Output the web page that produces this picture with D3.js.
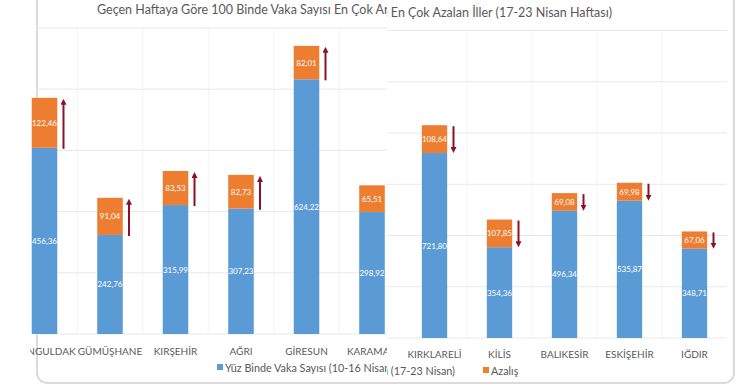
<!DOCTYPE html>
<html><head><meta charset="utf-8">
<script src="https://cdn.jsdelivr.net/npm/d3@7"></script>
<style>body{margin:0;background:#fff}svg{display:block;font-family:Lato,'Open Sans',sans-serif}</style>
</head><body><svg id="c" width="755" height="390"></svg>
<script>
const leftCategories=["ZONGULDAK","GÜMÜŞHANE","KIRŞEHİR","AĞRI","GİRESUN","KARAMAN"];
const leftBase=[456.36,242.76,315.99,307.23,624.22,298.92];
const leftChange=[122.46,91.04,83.53,82.73,82.01,65.51];
const rightCategories=["KIRKLARELİ","KİLİS","BALIKESİR","ESKİŞEHİR","IĞDIR"];
const rightBase=[721.80,354.36,496.34,535.87,348.71];
const rightChange=[108.64,107.85,69.08,69.98,67.06];
const leftTicks=[0,150,300,450,600,750];
const rightTicks=[0,200,400,600,800,1000,1200];
const leftTitle="Geçen Haftaya Göre 100 Binde Vaka Sayısı En Çok Artan İller (10-16 Nisan Haftası)";
const rightTitle="Geçen Haftaya Göre 100 Binde Vaka Sayısı En Çok Azalan İller (17-23 Nisan Haftası)";
const leftLegend=["Yüz Binde Vaka Sayısı (10-16 Nisan)"];
const rightLegend=["Yüz Binde Vaka Sayısı (17-23 Nisan)","Azalış"];

const BLUE="#5b9bd5", ORANGE="#ed7d31", ARROW="#8c1126", TXT="#595959";
const fmt=v=>d3.format(".2f")(v).replace(".",",");
const svg=d3.select("#c");
const defs=svg.append("defs");
defs.append("marker").attr("id","ah").attr("viewBox","0 0 10 10").attr("refX",5).attr("refY",5)
  .attr("markerWidth",3).attr("markerHeight",3).attr("orient","auto-start-reverse")
  .append("path").attr("d","M0,0 L10,5 L0,10 z").attr("fill",ARROW);

function panel(o){
  defs.append("clipPath").attr("id",o.id).append("rect")
    .attr("x",o.clip[0]).attr("y",-5).attr("width",o.clip[1]-o.clip[0]).attr("height",400);
  const g=svg.append("g").attr("clip-path",`url(#${o.id})`);
  g.append("rect").attr("x",o.box[0]).attr("y",-12).attr("width",o.box[1]-o.box[0]).attr("height",o.box[2]+12)
    .attr("rx",10).attr("fill","#fff").attr("stroke","#cfcfcf").attr("stroke-width",1.5);
  const x=d3.scaleBand().domain(o.cats).range(o.xr).padding(0);
  const y=d3.scaleLinear().domain([0,o.ticks[o.ticks.length-1]]).range(o.yr);
  const bw=x.bandwidth()*0.39;
  g.append("g").selectAll("line").data(o.cats.slice(1)).join("line")
    .attr("x1",d=>x(d)).attr("x2",d=>x(d)).attr("y1",o.yr[1]).attr("y2",o.yr[0])
    .attr("stroke","#f3f3f3");
  g.append("g").selectAll("line").data(o.ticks).join("line")
    .attr("x1",o.grid[0]).attr("x2",o.grid[1]).attr("y1",d=>y(d)).attr("y2",d=>y(d))
    .attr("stroke","#e8e8e8");
  const cx=d=>x(d)+x.bandwidth()/2;
  const rows=o.cats.map((c,i)=>({c,b:o.base[i],a:o.chg[i]}));
  g.append("g").selectAll("rect").data(rows).join("rect")
    .attr("x",d=>cx(d.c)-bw/2).attr("width",bw).attr("y",d=>y(d.b)).attr("height",d=>y(0)-y(d.b)).attr("fill",BLUE);
  g.append("g").selectAll("rect").data(rows).join("rect")
    .attr("x",d=>cx(d.c)-bw/2).attr("width",bw).attr("y",d=>y(d.b+d.a)).attr("height",d=>y(d.b)-y(d.b+d.a)).attr("fill",ORANGE);
  g.append("g").selectAll("text").data(rows).join("text")
    .attr("x",d=>cx(d.c)).attr("y",d=>y(d.b/2)+3).attr("text-anchor","middle")
    .attr("font-size",8).attr("fill","#fff").text(d=>fmt(d.b));
  g.append("g").selectAll("text").data(rows).join("text")
    .attr("x",d=>cx(d.c)).attr("y",d=>y(d.b+d.a/2)+3).attr("text-anchor","middle")
    .attr("font-size",8).attr("fill","#fff").text(d=>fmt(d.a));
  g.append("g").selectAll("line").data(rows).join("line")
    .attr("x1",d=>cx(d.c)+19).attr("x2",d=>cx(d.c)+19)
    .attr("y1",d=>o.up?y(d.b)+1:y(d.b+d.a)+1).attr("y2",d=>o.up?y(d.b+d.a)+4:y(d.b)-3)
    .attr("stroke",ARROW).attr("stroke-width",2).attr("marker-end","url(#ah)");
  g.append("g").selectAll("text").data(o.cats).join("text")
    .attr("x",d=>cx(d)).attr("y",o.labY).attr("text-anchor","middle")
    .attr("font-size",10).attr("fill",TXT).text(d=>d);
  g.append("text").attr("x",o.titleX).attr("y",o.titleY).attr("text-anchor",o.titleAnchor)
    .attr("font-size",12.5).attr("fill",TXT).text(o.title);
  const lg=g.append("g").attr("font-size",10.8).attr("fill",TXT);
  o.legendDraw(lg);
}

panel({id:"cl",clip:[30,387],box:[37,470,383],cats:leftCategories,base:leftBase,chg:leftChange,
  ticks:leftTicks,xr:[11.75,404.75],yr:[334,28],grid:[37,470],up:true,labY:355,
  title:leftTitle,titleX:97,titleY:14,titleAnchor:"start",
  legendDraw:lg=>{
    lg.append("rect").attr("x",217).attr("y",364).attr("width",6).attr("height",6).attr("fill",BLUE);
    lg.append("text").attr("x",225).attr("y",372).text(leftLegend[0]);
  }});

panel({id:"cr",clip:[387,745],box:[300,734,383],cats:rightCategories,base:rightBase,chg:rightChange,
  ticks:rightTicks,xr:[402,727],yr:[338,30.5],grid:[387,727],up:false,labY:358,
  title:rightTitle,titleX:612,titleY:17,titleAnchor:"end",
  legendDraw:lg=>{
    lg.append("text").attr("x",455).attr("y",375).attr("text-anchor","end").text(rightLegend[0]);
    lg.append("rect").attr("x",483).attr("y",367).attr("width",6).attr("height",6).attr("fill",ORANGE);
    lg.append("text").attr("x",491).attr("y",375).text(rightLegend[1]);
  }});
</script></body></html>
